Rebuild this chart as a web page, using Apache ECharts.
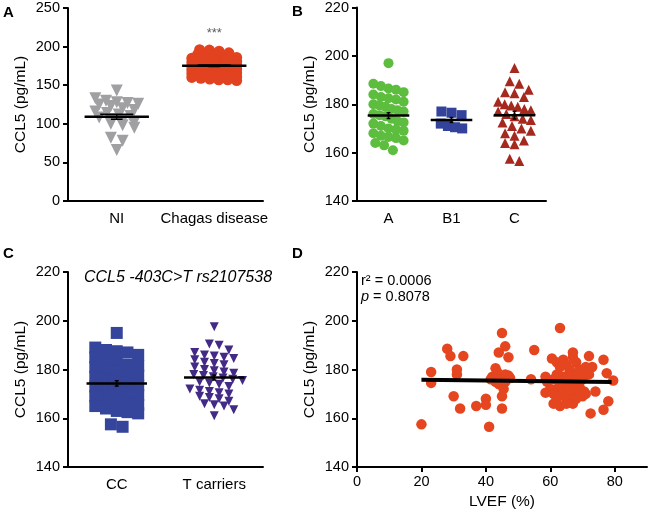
<!DOCTYPE html>
<html>
<head>
<meta charset="utf-8">
<script src="https://cdn.jsdelivr.net/npm/echarts@6/dist/echarts.min.js"></script>
<style>html,body{margin:0;padding:0;background:#fff}#c{width:649px;height:512px}</style>
</head>
<body>
<div id="c"></div>
<script>
// ---------- DATA ----------
const catsA = ['NI', 'Chagas disease'];
const niVals = [143, 133, 130, 128, 127, 126, 125, 123, 120, 118, 116, 114, 112, 110, 108, 106, 104, 102, 100, 98, 95, 82, 78, 66];
const chagasVals = [196, 195.5, 194, 192, 190, 189, 188, 187, 186, 185, 185, 184, 183, 183, 182, 181, 181, 180, 180, 179, 179, 178, 178, 178, 177, 177, 176, 176, 176, 175, 175, 175, 174, 174, 174, 173, 173, 173, 172, 172, 171, 171, 170, 170, 169, 169, 168, 168, 167, 167, 166, 166, 165, 165, 164, 164, 163, 163, 162, 161, 160, 159, 158, 157, 157, 156];
const meanA = [109.2, 175.2];
const semA = [3.3, 1.0];
const yTicksA = [0, 50, 100, 150, 200, 250];

const catsB = ['A', 'B1', 'C'];
const bGroupA = [197, 188.5, 187.5, 186.5, 186, 185, 184, 183, 182.5, 182, 181, 180, 179.5, 179, 178, 177.5, 177, 176, 175.5, 175, 174, 173, 172.5, 172, 171, 170, 169.5, 169, 168, 167, 166.5, 166, 165, 164, 163, 161];
const bGroupB1 = [177, 176.5, 175.5, 172, 171, 170, 170.5];
const bGroupC = [195, 189.5, 188.5, 186, 185, 184.5, 183, 181, 180, 179.5, 179, 178, 177.5, 177, 176, 175, 174, 173.5, 172.5, 171, 170, 169, 168, 167, 165, 164, 163.5, 157.5, 156.5];
const meanB = [175.3, 173.5, 175.5];
const semB = [1.2, 1.0, 1.6];

const catsC = ['CC', 'T carriers'];
const titleC = 'CCL5 -403C>T rs2107538';
const ccVals = [195, 189, 188, 187.5, 187, 186, 185, 184, 183, 182, 181.5, 181, 180, 179.5, 179, 178, 177.5, 177, 176.5, 176, 175.5, 175, 174.5, 174, 173.5, 173, 172.5, 172, 171.5, 171, 170.5, 170, 169.5, 169, 168.5, 168, 167.5, 167, 166, 165.5, 165, 164, 163, 162.5, 162, 157.5, 156.5];
const tVals = [197.5, 190.5, 190, 188, 187, 186, 185.5, 185, 184.5, 184, 183, 182.5, 182, 181, 180, 179.5, 179, 178.5, 178, 177.5, 177, 176.5, 176, 175.5, 175, 174.5, 174, 173, 172, 171.5, 171, 170.5, 170, 169, 168.5, 168, 167, 166, 165.5, 165, 163.5, 161];
const meanC = [174.3, 176.7];
const semC = [1.1, 1.0];
const yTicksBCD = [140, 160, 180, 200, 220];

const lvef = [20, 23, 23, 28, 29, 33, 31, 31, 30, 32, 37, 40, 40, 41, 45, 46, 44, 47, 43, 42, 43.5, 44.5, 47, 46, 47.5, 44, 45.5, 45, 45, 43, 41.5, 46,
  54, 55, 58.5, 58.5, 60.5, 59, 63, 67, 72, 73, 76.5, 77.5, 74, 78, 76.5, 72.5, 79.5, 70, 70.5, 61, 66.5,
  62, 63, 64, 65, 66, 67, 68, 69, 61, 62, 63, 64, 65, 66, 67, 68, 69, 70, 71, 72, 62, 63, 64, 65, 66, 67, 68, 69, 70, 71, 63, 65, 67, 64, 66, 60, 61, 62, 68];
const ccl5D = [157.5, 179, 174.5, 188.5, 185.5, 185.5, 180, 178, 169, 164, 165, 168, 165.5, 156.5, 195, 189.5, 187, 185, 180.5, 177, 179, 176.5, 177.5, 175, 176.5, 174, 172, 169, 164, 175, 176, 178,
  176, 188, 177, 170.5, 184.5, 175, 197, 187, 185.5, 181, 184, 178.5, 171, 167, 163.5, 162, 175.5, 177, 171, 166, 167,
  183, 181, 184, 182, 179, 185, 183, 180, 176, 178, 175, 177, 176, 174, 177, 175, 173, 176, 181, 178, 172, 170, 171, 168, 170, 166, 168, 171, 169, 170, 165, 166, 172, 174, 180, 172, 170, 168, 178];
const regX = [20, 79];
const regY = [175.8, 174.9];
const xTicksD = [0, 20, 40, 60, 80];
const statR2 = 'r² = 0.0006';
const statP = '0.8078';

// ---------- LAYOUT HELPERS ----------
// beeswarm-like layout: values grouped into rows, spread horizontally, alternate rows staggered
function swarm(vals, cx, rowVal, spacing, maxHalf) {
  const s = vals.slice().sort((a, b) => b - a);
  const out = [];
  let i = 0, row = 0;
  while (i < s.length) {
    let j = i;
    while (j < s.length && s[i] - s[j] < rowVal) j++;
    const n = j - i;
    const span = n > 1 ? Math.min((n - 1) * spacing, 2 * maxHalf) : 0;
    const shift = (n > 1 && row % 2 === 1) ? Math.min(spacing / 2, maxHalf - span / 2) * (row % 4 === 1 ? 1 : -1) : 0;
    for (let k = 0; k < n; k++) {
      const off = n > 1 ? -span / 2 + k * span / (n - 1) : 0;
      out.push([cx + off + Math.max(0, shift) * 0 + shift, s[i + k]]);
    }
    i = j; row++;
  }
  return out;
}
function meanData(means, sems) {
  return means.map((m, i) => [i + 0.5, m, sems[i]]);
}
function meanSeries(xi, yi, means, sems, hw, capUp, capDn) {
  return {
    type: 'custom', xAxisIndex: xi, yAxisIndex: yi, z: 10,
    data: meanData(means, sems),
    renderItem: function (params, api) {
      const x = api.value(0), m = api.value(1), e = api.value(2);
      const a = api.coord([x - hw, m]), b = api.coord([x + hw, m]);
      const t = api.coord([x, m + e]), d = api.coord([x, m - e]);
      const t1 = api.coord([x - capUp, m + e]), t2 = api.coord([x + capUp, m + e]);
      const d1 = api.coord([x - capDn, m - e]), d2 = api.coord([x + capDn, m - e]);
      const st = { stroke: '#000', lineWidth: 1.5 };
      return {
        type: 'group', children: [
          { type: 'line', shape: { x1: t[0], y1: t[1], x2: d[0], y2: d[1] }, style: st },
          { type: 'line', shape: { x1: t1[0], y1: t1[1], x2: t2[0], y2: t2[1] }, style: st },
          { type: 'line', shape: { x1: d1[0], y1: d1[1], x2: d2[0], y2: d2[1] }, style: st },
          { type: 'line', shape: { x1: a[0], y1: a[1], x2: b[0], y2: b[1] }, style: { stroke: '#000', lineWidth: 2.5 } }
        ]
      };
    }
  };
}

const FONT = "'Liberation Sans', Arial, Helvetica, sans-serif";
const axisLine = { show: true, lineStyle: { color: '#000', width: 2 } };
const axisTick = { show: true, length: 5, inside: false, lineStyle: { color: '#000', width: 2 } };
const tickLabel = { color: '#000', fontSize: 14.5, fontFamily: FONT, margin: 8 };

function yAxis(gi, min, max, interval, name) {
  return {
    type: 'value', gridIndex: gi, min: min, max: max, interval: interval,
    axisLine: axisLine, axisTick: axisTick, axisLabel: tickLabel, splitLine: { show: false },
    name: name, nameLocation: 'middle', nameGap: 39, nameRotate: 90,
    nameTextStyle: { color: '#000', fontSize: 15.5, fontFamily: FONT }
  };
}
function catXAxis(gi, cats) {
  return {
    type: 'value', gridIndex: gi, min: 0, max: cats.length,
    axisLine: axisLine, axisTick: { show: false }, splitLine: { show: false },
    axisLabel: {
      color: '#000', fontSize: 15, fontFamily: FONT, margin: 10,
      customValues: cats.map((c, i) => i + 0.5),
      formatter: v => cats[Math.round(v - 0.5)] || ''
    }
  };
}
function dots(xi, symbol, size, color, data, rotate) {
  return { type: 'scatter', xAxisIndex: xi, yAxisIndex: xi, symbol: symbol, symbolSize: size,
    symbolRotate: rotate || 0, itemStyle: { color: color, opacity: 1 }, emphasis: { disabled: true }, data: data };
}

const option = {
  animation: false,
  backgroundColor: '#fff',
  textStyle: { fontFamily: FONT },
  grid: [
    { left: 68, top: 8, width: 195, height: 193 },
    { left: 357, top: 7, width: 189, height: 194 },
    { left: 68, top: 272, width: 195, height: 195 },
    { left: 357, top: 272, width: 290, height: 195 }
  ],
  xAxis: [
    catXAxis(0, catsA),
    catXAxis(1, catsB),
    catXAxis(2, catsC),
    {
      type: 'value', gridIndex: 3, min: 0, max: 90,
      axisLine: axisLine, splitLine: { show: false },
      axisTick: Object.assign({}, axisTick, { customValues: xTicksD }),
      axisLabel: Object.assign({}, tickLabel, { customValues: xTicksD, margin: 7 }),
      name: 'LVEF (%)', nameLocation: 'middle', nameGap: 27,
      nameTextStyle: { color: '#000', fontSize: 15.5, fontFamily: FONT }
    }
  ],
  yAxis: [
    yAxis(0, yTicksA[0], yTicksA[yTicksA.length - 1], 50, 'CCL5 (pg/mL)'),
    yAxis(1, yTicksBCD[0], yTicksBCD[yTicksBCD.length - 1], 20, 'CCL5 (pg/mL)'),
    yAxis(2, yTicksBCD[0], yTicksBCD[yTicksBCD.length - 1], 20, 'CCL5 (pg/mL)'),
    yAxis(3, yTicksBCD[0], yTicksBCD[yTicksBCD.length - 1], 20, 'CCL5 (pg/mL)')
  ],
  series: [
    // Panel A
    dots(0, 'triangle', 12, '#a0a0a3', swarm(niVals, 0.5, 8, 0.12, 0.22), 180),
    dots(0, 'circle', 11, '#e2421f', swarm(chagasVals, 1.5, 5, 0.1, 0.23)),
    meanSeries(0, 0, meanA, semA, 0.33, 0.17, 0.06),
    { type: 'scatter', xAxisIndex: 0, yAxisIndex: 0, symbolSize: 1, itemStyle: { color: 'rgba(0,0,0,0)' },
      label: { show: true, position: 'inside', formatter: '***', color: '#333', fontSize: 13, fontFamily: FONT },
      data: [[1.5, 217]] },
    // Panel B
    dots(1, 'circle', 10, '#5dbd3e', swarm(bGroupA, 0.5, 4, 0.14, 0.24)),
    dots(1, 'rect', 10, '#33429a', swarm(bGroupB1, 1.5, 2.5, 0.16, 0.17)),
    dots(1, 'triangle', 10, '#a6291f', swarm(bGroupC, 2.5, 4, 0.15, 0.26)),
    meanSeries(1, 1, meanB, semB, 0.33, 0.03, 0.03),
    // Panel C
    dots(2, 'rect', 12, '#35459b', swarm(ccVals, 0.5, 4, 0.12, 0.22)),
    dots(2, 'triangle', 9, '#432a86', swarm(tVals, 1.5, 3, 0.1, 0.29), 180),
    meanSeries(2, 2, meanC, semC, 0.31, 0.02, 0.02),
    // Panel D
    dots(3, 'circle', 10.5, '#e5461f', lvef.map((v, i) => [v, ccl5D[i]])),
    { type: 'line', xAxisIndex: 3, yAxisIndex: 3, symbol: 'none', z: 10,
      lineStyle: { color: '#000', width: 4 }, data: regX.map((v, i) => [v, regY[i]]) }
  ],
  graphic: [
    { type: 'text', style: { text: 'A', x: 3, y: 13, font: "bold 15px " + FONT, fill: '#000', textVerticalAlign: 'middle' } },
    { type: 'text', style: { text: 'B', x: 292, y: 12, font: "bold 15px " + FONT, fill: '#000', textVerticalAlign: 'middle' } },
    { type: 'text', style: { text: 'C', x: 3, y: 254, font: "bold 15px " + FONT, fill: '#000', textVerticalAlign: 'middle' } },
    { type: 'text', style: { text: 'D', x: 292, y: 254, font: "bold 15px " + FONT, fill: '#000', textVerticalAlign: 'middle' } },
    { type: 'text', style: { text: titleC, x: 178, y: 278, font: "italic 16px " + FONT, fill: '#000', textAlign: 'center', textVerticalAlign: 'middle' } },
    { type: 'text', style: { text: statR2, x: 361, y: 281, font: "14.5px " + FONT, fill: '#000', textVerticalAlign: 'middle' } },
    { type: 'text', style: { text: '{i|p} = ' + statP, x: 361, y: 297, font: "14.5px " + FONT, fill: '#000', textVerticalAlign: 'middle',
      rich: { i: { fontStyle: 'italic', fontSize: 14.5, fontFamily: FONT } } } }
  ]
};
const chart = echarts.init(document.getElementById('c'), null, { renderer: 'canvas', width: 649, height: 512 });
chart.setOption(option);
</script>
</body>
</html>
